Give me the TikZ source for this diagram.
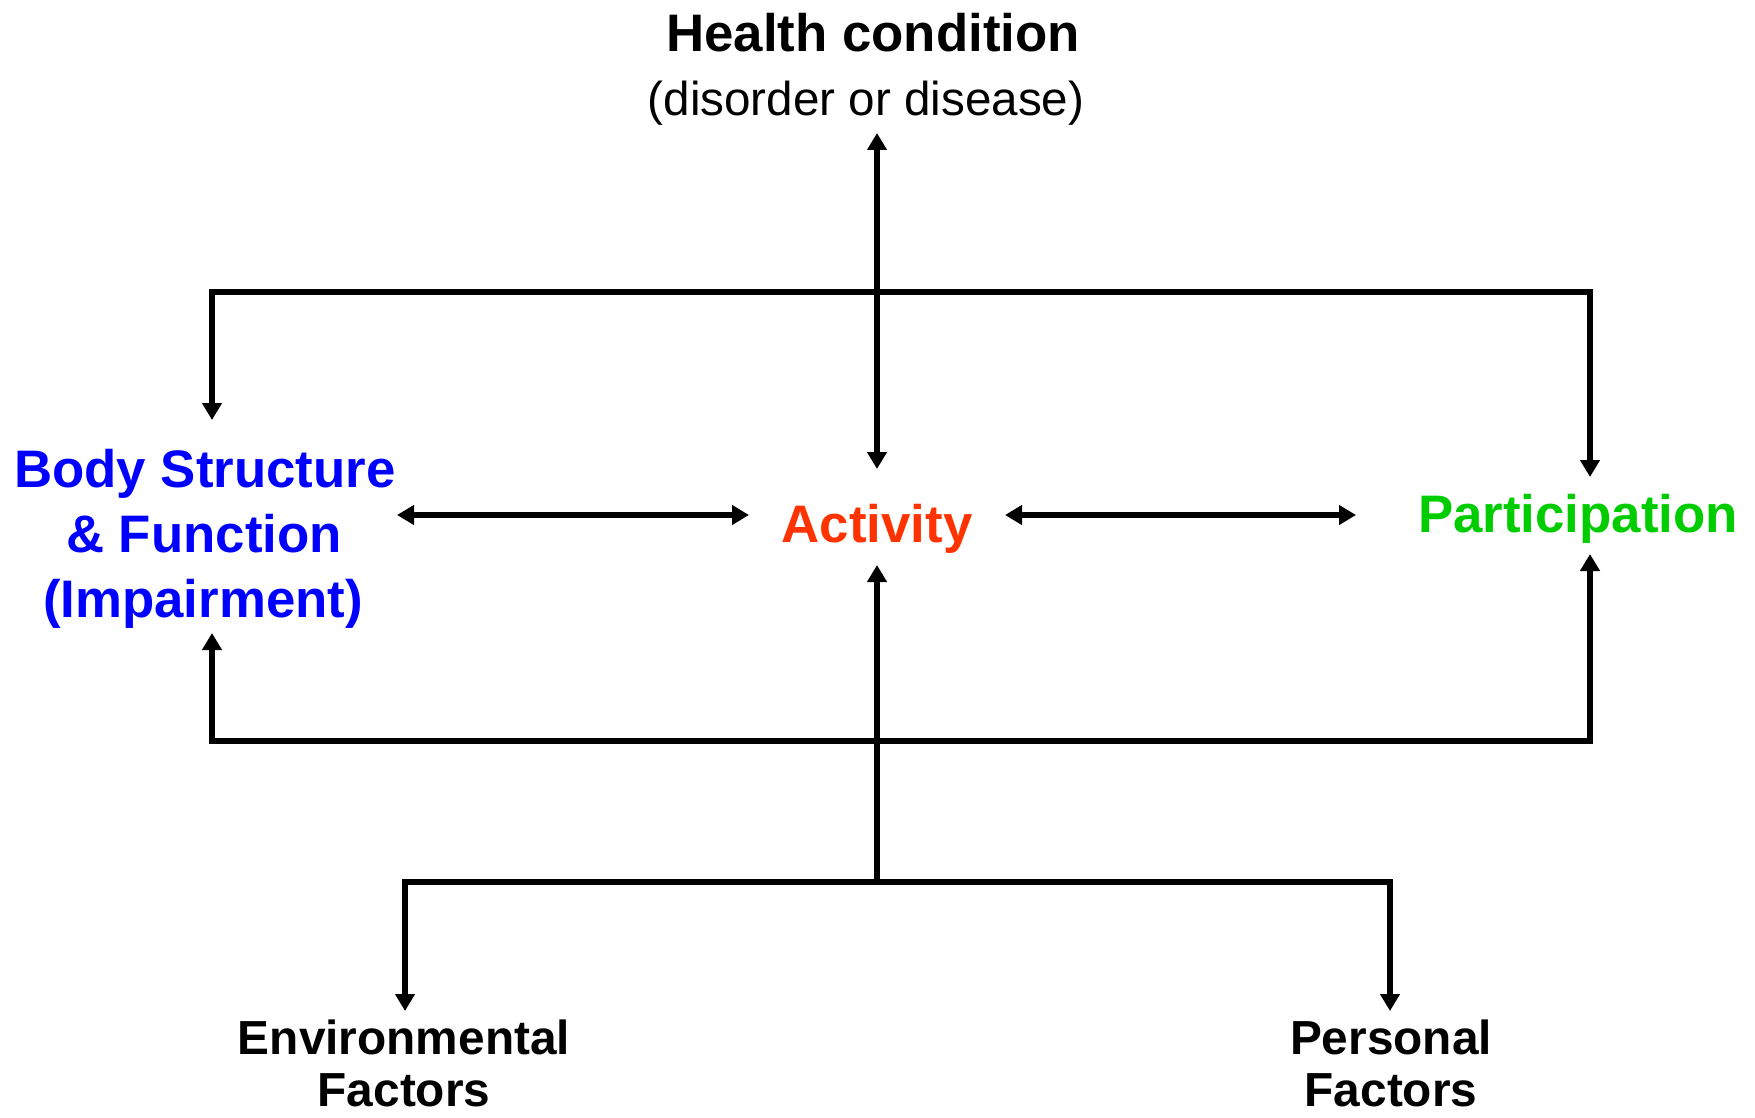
\documentclass[tikz,border=0pt]{standalone}
\usepackage{fontspec}
\setmainfont{Liberation Sans}
\usetikzlibrary{arrows.meta}
\definecolor{bodyblue}{RGB}{0,0,255}
\definecolor{actred}{RGB}{255,51,0}
\definecolor{partgreen}{RGB}{0,204,0}
\begin{document}
\begin{tikzpicture}[x=0.5pt,y=-0.5pt,
  line width=3pt,
  >={Triangle[length=8.5pt,width=9.5pt]},
  conn/.style={draw=black, line width=3pt},
  biglbl/.style={inner sep=0pt, anchor=base, font=\bfseries\fontsize{26.4}{30}\selectfont},
  factlbl/.style={inner sep=0pt, anchor=base, font=\bfseries\fontsize{23.9}{28}\selectfont},
  sublbl/.style={inner sep=0pt, anchor=base, font=\fontsize{23.8}{28}\selectfont}]
\useasboundingbox (0,0) rectangle (1755,1118);

% labels
\node[biglbl] (health) at (873,52) {Health condition};
\node[sublbl] (disorder) at (866,116) {(disorder or disease)};
\node[biglbl, text=bodyblue] (body1) at (205,487) {Body Structure};
\node[biglbl, text=bodyblue] (body2) at (204,552) {\& Function};
\node[biglbl, text=bodyblue] (body3) at (203,617) {(Impairment)};
\node[biglbl, text=actred] (activity) at (877,542) {Activity};
\node[biglbl, text=partgreen] (part) at (1578,532) {Participation};
\node[factlbl] (env1) at (404,1054) {Environmental};
\node[factlbl] (env2) at (404,1106) {Factors};
\node[factlbl] (pers1) at (1391,1054) {Personal};
\node[factlbl] (pers2) at (1391,1106) {Factors};

% connector points
\coordinate (hcTip) at (877,133);
\coordinate (actTop) at (877,469);
\coordinate (actBot) at (877,565);
\coordinate (bodyTop) at (212,420);
\coordinate (bodyBot) at (212,633);
\coordinate (partTop) at (1590,477);
\coordinate (partBot) at (1590,554);
\coordinate (tl) at (212,292);
\coordinate (tr) at (1590,292);
\coordinate (bl) at (212,741);
\coordinate (br) at (1590,741);
\coordinate (bodyRight) at (397,515);
\coordinate (actLeft) at (749,515);
\coordinate (actRight) at (1005,515);
\coordinate (partLeft) at (1356,515);
\coordinate (branch) at (877,882);
\coordinate (brL) at (405,882);
\coordinate (brR) at (1390,882);
\coordinate (envTip) at (405,1011);
\coordinate (persTip) at (1390,1011);

% connectors
\draw[conn, <->] (hcTip) -- (actTop);
\draw[conn, <->] (bodyTop) -- (tl) -- (tr) -- (partTop);
\draw[conn, <->] (bodyBot) -- (bl) -- (br) -- (partBot);
\draw[conn, <->] (bodyRight) -- (actLeft);
\draw[conn, <->] (actRight) -- (partLeft);
\draw[conn, ->] (branch) -- (actBot);
\draw[conn, <->] (envTip) -- (brL) -- (brR) -- (persTip);
\end{tikzpicture}
\end{document}
